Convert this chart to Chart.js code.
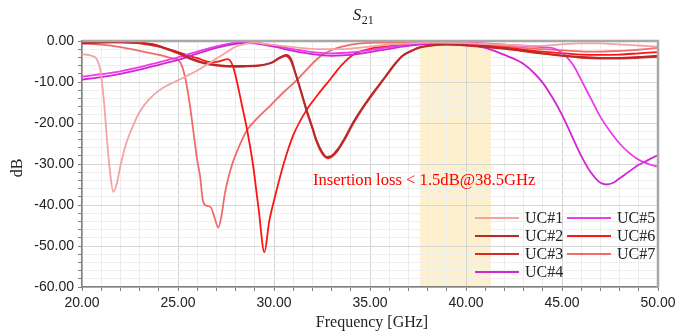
<!DOCTYPE html>
<html>
<head>
<meta charset="utf-8">
<script src="https://cdn.jsdelivr.net/npm/chart.js@4/dist/chart.umd.min.js"></script>
<style>
html,body{margin:0;padding:0;background:#fff;}
#wrap{width:693px;height:335px;position:relative;}
</style>
</head>
<body>
<div id="wrap"><canvas id="c" width="693" height="335"></canvas></div>
<script>
// ---- data ----
const seriesLabels = ['UC#1','UC#2','UC#3','UC#4','UC#5','UC#6','UC#7'];
const seriesColors = ['#f4a3a3','#b52b2b','#d42a2a','#d126d1','#ec3cec','#ff1414','#f26b6b'];

const uc1Freq = [20,20.5,20.75,20.95,21.15,21.3,21.45,21.63,21.8,22.0,22.3,22.6,23,23.5,24,24.5,25,26,27,27.5,28,28.5,29,29.8,31,32.4,33.5,34.5,35.5,36.5,37.5,38.5,40,41,42,43,43.8,44.5,45.3,46,47,48,49,50];
const uc1Db   = [-3.2,-3.6,-4.3,-7,-15,-24,-31.5,-36.8,-35,-30.5,-25,-21.3,-17.3,-14.2,-12.1,-10.7,-9.6,-7.2,-4.3,-2.8,-1.4,-0.7,-0.4,-0.9,-1.5,-2.0,-2.0,-1.6,-1.1,-0.7,-0.5,-0.4,-0.5,-0.7,-0.9,-1.1,-1.2,-1.0,-0.7,-0.6,-0.6,-0.8,-1.1,-1.4];

const uc2Freq = [20,21,22,23,23.8,24.5,25.1,25.7,26.3,27,28,28.6,29.3,29.9,30.3,30.65,30.9,31.1,31.4,31.7,32.0,32.2,32.5,32.75,33.0,33.3,33.7,34.1,34.5,35,35.5,35.9,36.3,36.7,37.1,37.6,38.1,39,40,42,44,46,47,48,49,50];
const uc2Db   = [-0.5,-0.3,-0.2,-0.4,-0.9,-2,-3,-4.3,-5.2,-5.8,-6.1,-6.1,-5.9,-5.2,-4.0,-3.4,-4.5,-7.5,-12,-16.8,-21,-24,-27,-28.3,-28,-26.5,-23.5,-20,-17,-13.6,-10.5,-8,-5.5,-3.5,-2.5,-1.5,-1.1,-0.8,-1.0,-1.8,-3.0,-3.9,-4.1,-4.1,-3.9,-3.6];

const uc3Freq = [20,21,22,23,23.8,24.5,25.1,25.7,26.3,27,28,28.6,29.3,29.9,30.3,30.6,30.85,31.1,31.4,31.7,32.0,32.2,32.5,32.8,33.0,33.3,33.7,34.1,34.5,35,35.5,35.9,36.3,36.7,37.1,37.6,38.1,39,40,42,44,46,47,48,49,50];
const uc3Db   = [-0.6,-0.4,-0.3,-0.5,-1.0,-2.2,-3.2,-4.5,-5.4,-6.0,-6.3,-6.2,-6.0,-5.3,-4.2,-3.6,-4.6,-7.8,-12.4,-17.2,-21.4,-24.4,-27.4,-28.6,-28.3,-26.9,-23.9,-20.4,-17.3,-13.9,-10.7,-8.2,-5.7,-3.7,-2.6,-1.6,-1.2,-0.9,-1.1,-1.9,-3.1,-4.1,-4.3,-4.3,-4.1,-3.9];

const uc4Freq = [20,21,22,23,24,25,26,27,28,28.5,29,30,31,32,33,34,35,36,37,38,39,40,41,42,43,44,44.5,45,45.5,46,46.5,47,47.3,47.7,48,48.5,49,49.5,50];
const uc4Db   = [-9.4,-8.8,-8.0,-7.0,-5.8,-4.6,-3.1,-1.7,-0.7,-0.5,-0.6,-1.4,-2.4,-3.2,-3.6,-3.4,-2.7,-1.9,-1.2,-0.7,-0.5,-0.8,-1.7,-3.4,-5.6,-10.2,-13.8,-18,-23,-28,-32,-34.6,-35,-34.5,-33.5,-31.8,-30.2,-29,-27.8];

const uc5Freq = [20,21,22,23,24,25,26,27,28,28.5,29,30,31,32,33,34,35,36,37,38,39,40,41,42,43,44,44.7,45.2,45.6,46,46.5,47,47.5,48,48.5,49,49.5,50];
const uc5Db   = [-8.7,-8.1,-7.4,-6.4,-5.2,-4.0,-2.6,-1.3,-0.4,-0.2,-0.4,-1.1,-2.0,-2.7,-3.0,-2.8,-2.2,-1.5,-0.9,-0.5,-0.3,-0.4,-0.6,-0.9,-1.2,-1.5,-2.0,-3.7,-6,-9.5,-14,-18.5,-22,-25,-27.3,-29,-30,-30.7];

const uc6Freq = [20,21,22,23,24,25,26,26.8,27.2,27.6,27.85,28.05,28.3,28.6,28.9,29.2,29.5,29.75,30.05,30.5,31.0,31.7,32.3,32.9,33.5,34.1,35,35.9,37,38.5,40,42,44,46,47,48,49,50];
const uc6Db   = [-0.3,-0.2,-0.3,-0.6,-1.4,-2.7,-4.2,-5.2,-4.9,-4.4,-6,-9.5,-15,-21.7,-30,-41,-51.5,-44,-38,-30,-23,-16.8,-13,-9.5,-6,-3.4,-1.9,-1.3,-0.9,-0.7,-0.9,-1.6,-2.6,-3.3,-3.4,-3.3,-3.0,-2.7];

const uc7Freq = [20,21,22,23,24,24.7,25.0,25.2,25.4,25.6,25.8,26.0,26.15,26.3,26.5,26.7,26.9,27.1,27.25,27.45,27.7,27.9,28.2,28.6,29.2,29.8,30.5,31.2,31.8,32.4,33,33.6,34.5,35.5,37,38.5,40,42,44,45.5,46.5,47.5,48.5,49.3,50];
const uc7Db   = [-0.6,-0.9,-1.5,-2.4,-3.4,-4.2,-4.6,-6,-9.5,-15,-22,-29,-33,-39,-40.2,-40.5,-43,-45.5,-43,-37,-32,-29,-25.5,-21.7,-18.5,-15.8,-12.5,-9.5,-6.5,-3.8,-2.2,-1.3,-0.6,-0.4,-0.4,-0.5,-0.8,-1.3,-2.0,-2.4,-2.6,-2.5,-2.3,-2.0,-1.6];

const seriesFreqs = [uc1Freq,uc2Freq,uc3Freq,uc4Freq,uc5Freq,uc6Freq,uc7Freq];
const seriesDbs   = [uc1Db,uc2Db,uc3Db,uc4Db,uc5Db,uc6Db,uc7Db];

const bandRange = [37.6, 41.3];           // highlighted frequency band (GHz)
const xTickStep = 1, xLabelEvery = 5;
const yTickStep = 2, yLabelEvery = 10;
const chartTitle = 'S';
const chartTitleSub = '21';
const xTitle = 'Frequency [GHz]';
const yTitle = 'dB';
const noteText = 'Insertion loss < 1.5dB@38.5GHz';
const notePos = [32.03, -34.1];

// ---- chart ----
const datasets = seriesLabels.map((lab, i) => ({
  label: lab,
  data: seriesFreqs[i].map((f, j) => ({x: f, y: seriesDbs[i][j]})),
  borderColor: seriesColors[i],
  backgroundColor: seriesColors[i],
  borderWidth: 1.8,
  pointRadius: 0,
  cubicInterpolationMode: 'monotone',
  fill: false
}));

const decor = {
  id: 'decor',
  beforeDraw(chart) {
    const {ctx, chartArea: a, scales: {x}} = chart;
    ctx.save();
    ctx.fillStyle = '#fdf0cf';
    const x0 = x.getPixelForValue(bandRange[0]), x1 = x.getPixelForValue(bandRange[1]);
    ctx.fillRect(x0, a.top, x1 - x0, a.bottom - a.top);
    ctx.restore();
  },
  afterDraw(chart) {
    const {ctx, chartArea: a, scales: {x, y}} = chart;
    ctx.save();
    // top & right frame
    ctx.strokeStyle = '#a8a8a8';
    ctx.lineWidth = 2.5;
    ctx.beginPath();
    ctx.moveTo(a.left, a.top); ctx.lineTo(a.right, a.top); ctx.lineTo(a.right, a.bottom);
    ctx.stroke();
    // title
    ctx.fillStyle = '#222';
    ctx.textBaseline = 'alphabetic';
    ctx.font = 'italic 17px "Liberation Serif"';
    const sw = ctx.measureText(chartTitle).width;
    ctx.font = '12px "Liberation Serif"';
    const subw = ctx.measureText(chartTitleSub).width;
    const tx = 363 - (sw + subw) / 2;
    ctx.font = 'italic 17px "Liberation Serif"';
    ctx.fillText(chartTitle, tx, 20);
    ctx.font = '12px "Liberation Serif"';
    ctx.fillText(chartTitleSub, tx + sw + 0.5, 24);
    // axis titles
    ctx.font = '16px "Liberation Serif"';
    ctx.textAlign = 'center';
    ctx.textBaseline = 'middle';
    ctx.fillText(xTitle, 372, 323);
    ctx.save();
    ctx.translate(18, 168);
    ctx.rotate(-Math.PI / 2);
    ctx.fillText(yTitle, 0, 0);
    ctx.restore();
    // note
    ctx.fillStyle = '#ff0000';
    ctx.textAlign = 'left';
    ctx.font = '16.6px "Liberation Serif"';
    ctx.fillText(noteText, x.getPixelForValue(notePos[0]), y.getPixelForValue(notePos[1]));
    // legend (two columns, inside plot)
    ctx.font = '16px "Liberation Serif"';
    ctx.fillStyle = '#222';
    const cols = [475, 567], rows = [218, 236, 254, 272];
    seriesLabels.forEach((lab, i) => {
      const c = i < 4 ? 0 : 1, r = i < 4 ? i : i - 4;
      const lx = cols[c], ly = rows[r];
      ctx.strokeStyle = seriesColors[i];
      ctx.lineWidth = 2;
      ctx.beginPath(); ctx.moveTo(lx, ly); ctx.lineTo(lx + 44, ly); ctx.stroke();
      ctx.fillStyle = '#222';
      ctx.fillText(lab, lx + 50, ly + 1);
    });
    ctx.restore();
  }
};

new Chart(document.getElementById('c'), {
  type: 'line',
  data: {datasets},
  options: {
    responsive: false,
    animation: false,
    layout: {padding: {top: 41, right: 35, left: 0, bottom: 0}},
    plugins: {legend: {display: false}, title: {display: false}, tooltip: {enabled: false}},
    scales: {
      x: {
        type: 'linear', min: 20, max: 50,
        afterFit: s => { s.height = 48; },
        border: {color: '#808080', width: 1.5},
        grid: {
          color: c => (c.tick && Math.abs(c.tick.value % xLabelEvery) < 1e-9) ? '#d2d2d2' : '#ececec',
          tickColor: '#808080', tickLength: 4, drawTicks: true
        },
        ticks: {
          stepSize: xTickStep, autoSkip: false, maxRotation: 0, padding: 4,
          color: '#222', font: {family: '"Liberation Sans"', size: 14},
          callback: v => (Math.abs(v % xLabelEvery) < 1e-9) ? v.toFixed(2) : ''
        }
      },
      y: {
        type: 'linear', min: -60, max: 0,
        afterFit: s => { s.width = 82; },
        border: {color: '#808080', width: 1.5},
        grid: {
          color: c => (c.tick && Math.abs(c.tick.value % yLabelEvery) < 1e-9) ? '#d6d6d6' : '#efefef',
          tickColor: '#808080', tickLength: 4, drawTicks: true
        },
        ticks: {
          stepSize: yTickStep, autoSkip: false, padding: 4,
          color: '#222', font: {family: '"Liberation Sans"', size: 14},
          callback: v => (Math.abs(v % yLabelEvery) < 1e-9) ? v.toFixed(2) : ''
        }
      }
    }
  },
  plugins: [decor]
});
</script>
</body>
</html>
